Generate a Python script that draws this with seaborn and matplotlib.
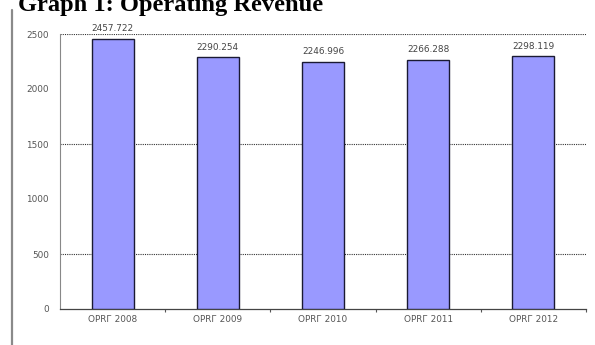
import matplotlib
matplotlib.use("Agg")
import matplotlib.pyplot as plt
from matplotlib.lines import Line2D
from matplotlib.ticker import FixedLocator
import seaborn as sns
import pandas as pd

# Operating revenue per year
categories = ["OPRГ 2008", "OPRГ 2009", "OPRГ 2010", "OPRГ 2011", "OPRГ 2012"]
revenue = [2457.722, 2290.254, 2246.996, 2266.288, 2298.119]
value_labels = ["2457.722", "2290.254", "2246.996", "2266.288", "2298.119"]
y_ticks = [0, 500, 1000, 1500, 2000, 2500]
grid_levels = [500, 1500, 2500]

sns.set_theme(style="white")
plt.rcParams["font.family"] = ["DejaVu Sans"]

df = pd.DataFrame({"category": categories, "revenue": revenue})

fig = plt.figure(figsize=(5.95, 3.45), dpi=100)
ax = fig.add_axes([60 / 595, 1 - 309 / 345, 526 / 595, 275 / 345])

sns.barplot(data=df, x="category", y="revenue", ax=ax, width=0.4,
            color="#9999ff", saturation=1, edgecolor="#1a1a33", linewidth=1.0,
            zorder=3)

ax.set_xlim(-0.5, len(categories) - 0.5)
ax.set_ylim(0, 2500)
ax.set_xlabel("")
ax.set_ylabel("")

# dotted reference lines
for lvl in grid_levels:
    ax.axhline(lvl, color="#333333", linestyle=(0, (1, 1)), linewidth=0.8, zorder=1)

ax.set_yticks(y_ticks)
ax.set_yticklabels([str(v) for v in y_ticks])
ax.yaxis.set_minor_locator(FixedLocator([0] + grid_levels))
ax.tick_params(axis="y", which="major", length=0, pad=8, labelsize=6.4,
               labelcolor="#555555")
ax.tick_params(axis="y", which="minor", length=3, width=0.8, color="#555555",
               left=True)

ax.tick_params(axis="x", which="major", length=0, pad=4, labelsize=6.4,
               labelcolor="#555555")
ax.xaxis.set_minor_locator(FixedLocator([0.5, 1.5, 2.5, 3.5, 4.5]))
ax.tick_params(axis="x", which="minor", length=2, width=0.8, color="#555555",
               bottom=True)

for side in ("top", "right"):
    ax.spines[side].set_visible(False)
ax.spines["left"].set_color("#888888")
ax.spines["left"].set_linewidth(0.8)
ax.spines["bottom"].set_color("#444444")
ax.spines["bottom"].set_linewidth(0.9)

ax.bar_label(ax.containers[0], labels=value_labels, padding=4, fontsize=6.4,
             color="#444444", clip_on=False)

# page title and left margin rule
fig.text(18 / 595, 1 - 11 / 345, "Graph 1: Operating Revenue",
         fontsize=17.6, fontweight="bold", family="Liberation Serif",
         ha="left", va="baseline", color="black")
fig.add_artist(Line2D([12 / 595, 12 / 595], [0, 1 - 10 / 345],
                      color="#8a8a8a", linewidth=1.6))

fig.savefig("out.png", dpi=100)
